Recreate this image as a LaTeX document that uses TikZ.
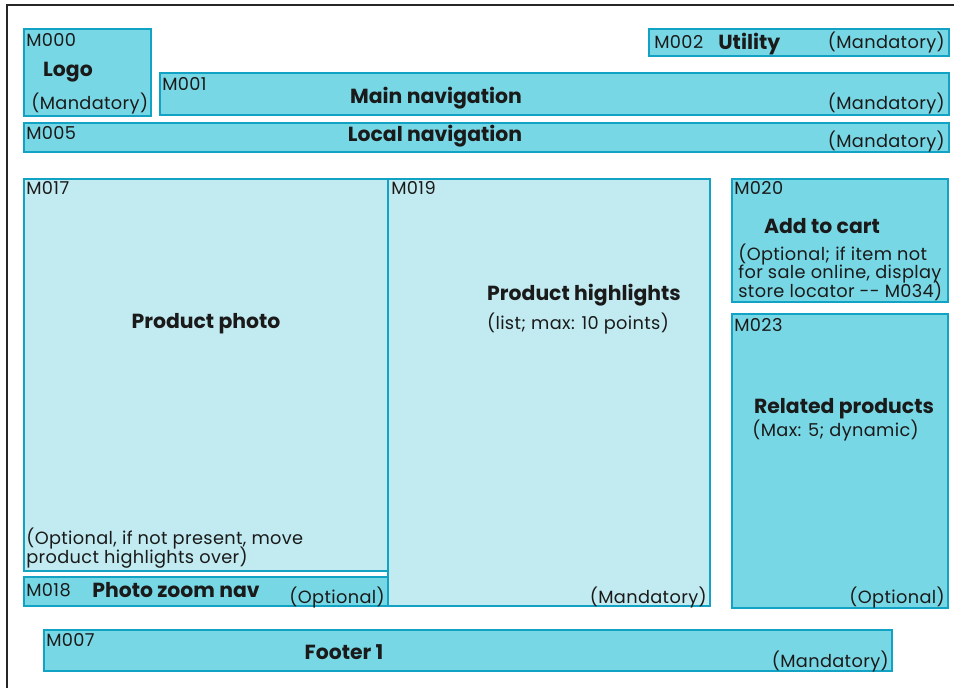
\documentclass[tikz,border=0pt]{standalone}
\usepackage{fontspec}
\setmainfont{Poppins}
\newfontfamily\modfont[LetterSpace=2]{Poppins}
\usepackage{xcolor}
\usepackage{tikz}

\definecolor{modline}{HTML}{12A2C4}
\definecolor{moddark}{HTML}{78D7E5}
\definecolor{modlight}{HTML}{C1EBF1}
\definecolor{modtext}{HTML}{1A1A1A}
\newcommand\tightlines{\lineskiplimit=-20pt\relax}

\begin{document}
\begin{tikzpicture}[
    module/.style={draw=modline, line width=1.1pt, fill=moddark, outer sep=0pt, inner sep=0pt},
    modlite/.style={module, fill=modlight},
    code/.style={anchor=west, inner sep=0pt, text=modtext, font=\modfont\fontsize{10.1}{10.6}\selectfont},
    title/.style={inner sep=0pt, text=modtext, font=\fontsize{11.6}{13}\selectfont\bfseries},
    status/.style={anchor=east, inner sep=0pt, text=modtext, font=\modfont\fontsize{10.1}{10.6}\selectfont},
    remark/.style={anchor=west, inner sep=0pt, text=modtext, align=left,
        font=\modfont\fontsize{10.1}{10.6}\selectfont\tightlines},
]
\useasboundingbox (0,0) rectangle (19.08,13.76);
\draw[line width=1.1pt, black!85] (0.14,0) -- (0.14,13.66) -- (19.08,13.66);

% header
\node[module, minimum width=2.54cm, minimum height=1.74cm] (logo) at (1.75,12.31) {};
\node[module, minimum width=15.78cm, minimum height=0.84cm] (mainnav) at (11.09,11.88) {};
\node[module, minimum width=6.0cm, minimum height=0.54cm] (utility) at (15.98,12.91) {};
\node[module, minimum width=18.5cm, minimum height=0.58cm] (localnav) at (9.73,11.01) {};

% content
\node[modlite, minimum width=7.28cm, minimum height=7.84cm] (photo) at (4.12,6.26) {};
\node[module, minimum width=7.28cm, minimum height=0.58cm] (zoomnav) at (4.12,1.93) {};
\node[modlite, minimum width=6.44cm, minimum height=8.54cm] (highlights) at (10.98,5.91) {};
\node[module, minimum width=4.32cm, minimum height=2.46cm] (cart) at (16.80,8.95) {};
\node[module, minimum width=4.32cm, minimum height=5.88cm] (related) at (16.80,4.54) {};

% footer
\node[module, minimum width=16.96cm, minimum height=0.82cm] (footer) at (9.36,0.75) {};

% module codes
\node[code] (c000) at (0.52,12.96) {M000};
\node[code] (c001) at (3.24,12.08) {M001};
\node[code] (c002) at (13.08,12.92) {M002};
\node[code] (c005) at (0.52,11.10) {M005};
\node[code] (c017) at (0.52,10.00) {M017};
\node[code] (c018) at (0.52,1.96) {M018};
\node[code] (c019) at (7.82,10.00) {M019};
\node[code] (c020) at (14.68,10.00) {M020};
\node[code] (c023) at (14.68,7.26) {M023};
\node[code] (c007) at (0.92,0.96) {M007};

% titles
\node[title] (logot) at (1.36,12.32) {Logo};
\node[title] (mainnavt) at (8.72,11.80) {Main navigation};
\node[title, anchor=west] (utilityt) at (14.36,12.88) {Utility};
\node[title] (localnavt) at (8.70,11.04) {Local navigation};
\node[title] (photot) at (4.12,7.28) {Product photo};
\node[title, anchor=west] (zoomnavt) at (1.84,1.96) {Photo zoom nav};
\node[title] (highlightst) at (11.68,7.86) {Product highlights};
\node[title] (cartt) at (16.44,9.24) {Add to cart};
\node[title] (relatedt) at (16.88,5.58) {Related products};
\node[title] (footert) at (6.88,0.72) {Footer 1};

% status
\node[status, anchor=west] (logos) at (0.62,11.68) {(Mandatory)};
\node[status] (mainnavs) at (18.90,11.68) {(Mandatory)};
\node[status] (utilitys) at (18.90,12.90) {(Mandatory)};
\node[status] (localnavs) at (18.90,10.93) {(Mandatory)};
\node[status] (zoomnavs) at (7.70,1.81) {(Optional)};
\node[status] (highlightss) at (14.14,1.81) {(Mandatory)};
\node[status] (relateds) at (18.90,1.81) {(Optional)};
\node[status] (footers) at (17.78,0.53) {(Mandatory)};

% remarks
\node[remark] (photor) at (0.52,2.80) {(Optional, if not present, move\\product highlights over)};
\node[remark] (cartr) at (14.76,8.32) {(Optional; if item not\\for sale online, display\\store locator -{}- M034)};
\node[remark, anchor=center] (highlightsr) at (11.56,7.28) {(list; max: 10 points)};
\node[remark] (relatedr) at (15.04,5.16) {(Max: 5; dynamic)};
\end{tikzpicture}
\end{document}
